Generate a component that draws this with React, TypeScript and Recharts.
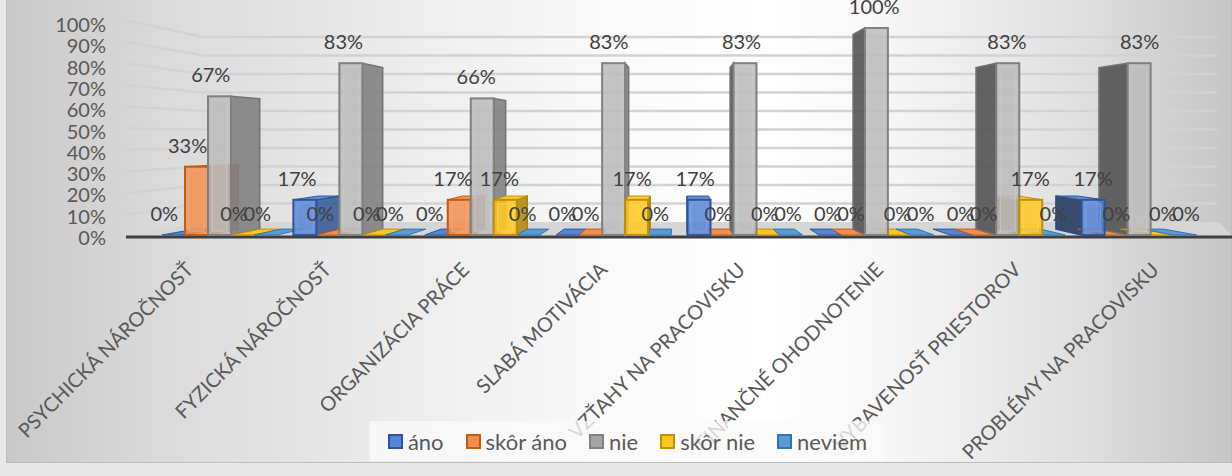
import React from 'react';
import { BarChart, Bar, XAxis, YAxis, CartesianGrid, LabelList } from 'recharts';

const categories = [
  'PSYCHICKÁ NÁROČNOSŤ',
  'FYZICKÁ NÁROČNOSŤ',
  'ORGANIZÁCIA PRÁCE',
  'SLABÁ MOTIVÁCIA',
  'VZŤAHY NA PRACOVISKU',
  'FINANČNÉ OHODNOTENIE',
  'VYBAVENOSŤ PRIESTOROV',
  'PROBLÉMY NA PRACOVISKU',
];
const ano = [0, 0.17, 0, 0, 0.17, 0, 0, 0.17];
const skorAno = [0.33, 0, 0.17, 0, 0, 0, 0, 0];
const nie = [0.67, 0.83, 0.66, 0.83, 0.83, 1.0, 0.83, 0.83];
const skorNie = [0, 0, 0.17, 0.17, 0, 0, 0.17, 0];
const neviem = [0, 0, 0, 0, 0, 0, 0, 0];
const seriesNames = ['áno', 'skôr áno', 'nie', 'skôr nie', 'neviem'];
const seriesKeys = ['ano', 'skorAno', 'nie', 'skorNie', 'neviem'];
const yTicks = [0, 0.1, 0.2, 0.3, 0.4, 0.5, 0.6, 0.7, 0.8, 0.9, 1];

const fills = ['#5585d6', '#f28f4f', '#b9b9b9', '#ffc61f', '#5b9bd5'];
const borders = ['#2f5597', '#c55a11', '#808080', '#bf9000', '#2e75b6'];

const data = categories.map((name, i) => ({
  name,
  ano: ano[i],
  skorAno: skorAno[i],
  nie: nie[i],
  skorNie: skorNie[i],
  neviem: neviem[i],
}));

const W = 1232;
const H = 476;
const TOP = 28;
const PLOT_BOTTOM = 235;
const PLOT_H = PLOT_BOTTOM - TOP;
// back wall of the 3d box
const WALL_BOTTOM = 222;
const WALL_H = 185;
// vanishing point for the fake perspective
const VX = 680;
const VY = 137;
const KX = 0.064;
const KY = 0.06;
const TEXT = '#595959';
const FONT = 'Lato, "Open Sans", sans-serif';

function shade(hex: string, f: number) {
  const n = parseInt(hex.slice(1), 16);
  const ch = [(n >> 16) & 255, (n >> 8) & 255, n & 255].map((c) =>
    f <= 1 ? Math.round(c * f) : Math.round(c + (255 - c) * (f - 1))
  );
  return '#' + ch.map((c) => c.toString(16).padStart(2, '0')).join('');
}

function gridLine(props: any) {
  const { x1, x2, y1, index } = props;
  const frac = (PLOT_BOTTOM - y1) / PLOT_H;
  const yb = WALL_BOTTOM - frac * WALL_H;
  const yf = yb + (yb - VY) * 0.17;
  const wallX = x1 + 49;
  if (frac < 0.01) {
    return (
      <g key={'g' + index}>
        <polygon
          points={`${x1 - 28},${PLOT_BOTTOM + 1} ${wallX},${yb} ${x2 + 14},${yb} ${W},${PLOT_BOTTOM + 1}`}
          fill="#d6d6d6"
        />
        <line x1={x1 - 28} y1={PLOT_BOTTOM + 2} x2={W} y2={PLOT_BOTTOM + 2} stroke="#3f3f3f" strokeWidth={3} />
      </g>
    );
  }
  return (
    <polyline
      key={'g' + index}
      points={`${x1 - 29},${yf} ${wallX},${yb} ${x2 + 12},${yb}`}
      fill="none"
      stroke="#d2d2d2"
      strokeWidth={2.5}
    />
  );
}

// side and top faces, drawn first so that the fronts cover them
function makeBack(si: number) {
  return (p: any) => {
    const { x, y, width: w, height: h } = p;
    if (x == null || y == null) return <g />;
    const bottom = y + h;
    const cx = x + w / 2;
    const right = cx < VX;
    const xe = right ? x + w : x;
    const dx = KX * (VX - xe);
    const dyT = KY * (VY - y);
    const dyB = KY * (VY - bottom);
    const dxL = KX * (VX - x);
    const dxR = KX * (VX - (x + w));
    const side = `${xe},${y} ${xe + dx},${y + dyT} ${xe + dx},${bottom + dyB} ${xe},${bottom}`;
    const top = `${x},${y} ${x + w},${y} ${x + w + dxR},${y + dyT} ${x + dxL},${y + dyT}`;
    return (
      <g>
        {h > 0.5 && (
          <polygon
            points={side}
            fill={shade(fills[si], right ? 0.7 : 0.45)}
            fillOpacity={0.9}
            stroke={shade(borders[si], 0.9)}
            strokeWidth={1.5}
          />
        )}
        {dyT < 0 && (
          <polygon
            points={top}
            fill={h > 0.5 ? shade(fills[si], 1.1) : fills[si]}
            stroke={borders[si]}
            strokeWidth={1}
          />
        )}
      </g>
    );
  };
}

function makeFront(si: number) {
  return (p: any) => {
    const { x, y, width: w, height: h } = p;
    if (!(h > 0.5)) return <g />;
    return (
      <g>
        <rect x={x} y={y} width={w} height={h} fill={fills[si]} fillOpacity={0.82} stroke={borders[si]} strokeWidth={2} />
        {h > 10 && (
          <rect
            x={x + 4}
            y={y + 4}
            width={w - 8}
            height={h - 8}
            fill={shade(fills[si], 1.08)}
            fillOpacity={0.45}
            stroke={shade(fills[si], 1.2)}
            strokeWidth={1}
          />
        )}
      </g>
    );
  };
}

function valueLabel(p: any) {
  const { x, y, width, value } = p;
  if (x == null) return null;
  const cx = x + width / 2 - 4 + (x - VX) * 0.01;
  return (
    <text x={cx} y={y - 14} textAnchor="middle" fontSize={20} fill="#404040" fontFamily={FONT}>
      {Math.round(value * 100)}%
    </text>
  );
}

function CatTick(p: any) {
  const { x, y, payload } = p;
  const ex = x + (x - VX) * 0.05 - 2;
  const ey = y + 6;
  return (
    <text
      x={ex}
      y={ey}
      transform={`rotate(-45, ${ex}, ${ey})`}
      textAnchor="end"
      fontSize={20}
      fill={TEXT}
      fontFamily={FONT}
    >
      {payload.value}
    </text>
  );
}

function PctTick(p: any) {
  const { y, payload } = p;
  const ty = y + (y - (TOP + PLOT_BOTTOM) / 2) * 0.029;
  return (
    <text x={106} y={ty} dy="0.35em" textAnchor="end" fontSize={20} fill={TEXT} fontFamily={FONT}>
      {Math.round(payload.value * 100)}%
    </text>
  );
}

export default function App() {
  return (
    <div
      style={{
        position: 'absolute',
        left: 0,
        top: 0,
        width: W,
        height: H,
        background: '#e8e8e8',
        overflow: 'hidden',
        fontFamily: FONT,
      }}
    >
      <div
        style={{
          position: 'absolute',
          left: 6,
          top: -2,
          width: W - 6,
          height: 465,
          boxSizing: 'border-box',
          border: '1px solid #bdbdbd',
          background:
            'linear-gradient(90deg, #c9c9c9 0%, #d9d9d9 12%, #ececec 32%, #fafafa 50%, #ffffff 62%, #f6f6f6 72%, #e2e2e2 86%, #c6c6c6 100%)',
        }}
      />
      <div style={{ position: 'absolute', left: 0, top: 0 }}>
        <BarChart
          width={W}
          height={H}
          data={data}
          margin={{ top: TOP, right: 27, bottom: 0, left: 0 }}
          barCategoryGap={8}
          barGap={0}
        >
          <CartesianGrid xAxisId="front" vertical={false} horizontal={gridLine} />
          <XAxis xAxisId="back" dataKey="name" hide />
          <XAxis xAxisId="labels" dataKey="name" hide />
          <XAxis
            xAxisId="front"
            dataKey="name"
            height={H - PLOT_BOTTOM}
            axisLine={false}
            tickLine={false}
            tickSize={0}
            tickMargin={0}
            interval={0}
            tick={<CatTick />}
          />
          <YAxis
            width={154}
            domain={[0, 1]}
            ticks={yTicks}
            interval={0}
            axisLine={false}
            tickLine={false}
            tick={<PctTick />}
          />
          {seriesKeys.map((k, i) => (
            <Bar key={'b' + k} xAxisId="back" dataKey={k} shape={makeBack(i)} isAnimationActive={false} />
          ))}
          {seriesKeys.map((k, i) => (
            <Bar key={'f' + k} xAxisId="front" dataKey={k} name={seriesNames[i]} shape={makeFront(i)} isAnimationActive={false} />
          ))}
          {seriesKeys.map((k) => (
            <Bar key={'l' + k} xAxisId="labels" dataKey={k} shape={() => <g />} isAnimationActive={false}>
              <LabelList dataKey={k} content={valueLabel} />
            </Bar>
          ))}
        </BarChart>
      </div>
      <div
        style={{
          position: 'absolute',
          left: 370,
          top: 421,
          width: 515,
          height: 40,
          background: 'rgba(250,250,250,0.78)',
          display: 'flex',
          alignItems: 'center',
          justifyContent: 'center',
          fontSize: 22,
          color: TEXT,
        }}
      >
        {seriesNames.map((s, i) => (
          <div key={s} style={{ display: 'flex', alignItems: 'center', marginLeft: i === 0 ? 0 : 22 }}>
            <span
              style={{
                display: 'inline-block',
                width: 11,
                height: 11,
                background: i === 2 ? '#a5a5a5' : fills[i],
                border: `2px solid ${borders[i]}`,
                marginRight: 5,
              }}
            />
            <span>{s}</span>
          </div>
        ))}
      </div>
    </div>
  );
}
